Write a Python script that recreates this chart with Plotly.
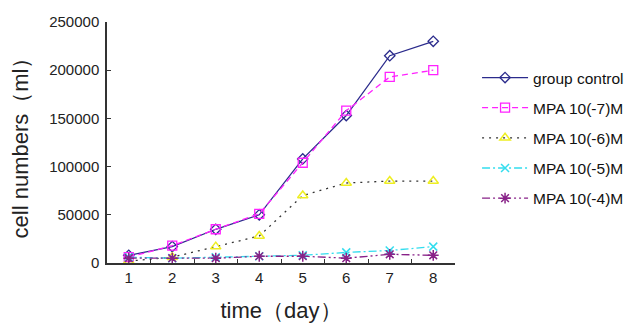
import plotly.graph_objects as go

days = [1, 2, 3, 4, 5, 6, 7, 8]
control = [8000, 17000, 35000, 50000, 108000, 153000, 215000, 230000]
mpa7 = [6000, 18000, 35000, 51000, 104000, 158000, 193000, 200000]
mpa6 = [2000, 6000, 17000, 28000, 70000, 83000, 85000, 85000]
mpa5 = [6000, 5000, 6000, 7000, 8000, 11000, 13000, 17000]
mpa4 = [5000, 5000, 5000, 7000, 7000, 5000, 9000, 8000]
names = ["group control", "MPA 10(-7)M", "MPA 10(-6)M", "MPA 10(-5)M", "MPA 10(-4)M"]

fig = go.Figure()
fig.add_trace(go.Scatter(x=days, y=control, name=names[0], legendgroup="a", mode="lines+markers",
                         line=dict(color="#2B2B8C", width=1.3, dash="solid"),
                         marker=dict(symbol="diamond-open", size=8, color="#2B2B8C", line=dict(width=1.3))))
fig.add_trace(go.Scatter(x=days, y=mpa7, name=names[1], legendgroup="b", mode="lines+markers",
                         line=dict(color="#FF22FF", width=1.3, dash="6px,4px"),
                         marker=dict(symbol="square-open", size=9, color="#FF22FF", line=dict(width=1.3))))
fig.add_trace(go.Scatter(x=days, y=mpa6, name=names[2], legendgroup="c", mode="lines+markers",
                         line=dict(color="#333333", width=1.3, dash="2px,5px"),
                         marker=dict(symbol="triangle-up-open", size=9, color="#EEEE22", line=dict(width=1.5))))
fig.add_trace(go.Scatter(x=days, y=mpa5, name=names[3], legendgroup="d", mode="lines+markers",
                         line=dict(color="#33DDEE", width=1.3, dash="8px,3px,2px,3px"),
                         marker=dict(symbol="x-thin-open", size=8, color="#33DDEE", line=dict(width=1.5, color="#33DDEE"))))
fig.add_trace(go.Scatter(x=days, y=mpa4, name=names[4], legendgroup="e", mode="lines+markers",
                         line=dict(color="#882288", width=1.3, dash="8px,3px,2px,3px,2px,3px"),
                         marker=dict(symbol="asterisk-open", size=9, color="#882288", line=dict(width=1.5, color="#882288"))))

fig.update_layout(
    width=633, height=327,
    margin=dict(l=99, r=186, t=14, b=72, autoexpand=False),
    plot_bgcolor="white", paper_bgcolor="white",
    font=dict(family="Liberation Sans, Arial, sans-serif", color="#222222"),
    showlegend=True,
    legend=dict(xref="container", yref="container", x=0.741, y=0.838,
                xanchor="left", yanchor="top",
                font=dict(size=15.5, color="#111111"), tracegroupgap=7,
                itemwidth=46, bgcolor="rgba(0,0,0,0)"),
    xaxis=dict(range=[0.5, 8.5], tickvals=days, ticktext=[str(d) for d in days],
               ticks="", showgrid=False, zeroline=False, automargin=False,
               showline=True, linecolor="#333333", linewidth=1.5,
               tickfont=dict(size=15),
               minor=dict(tickvals=[1.5, 2.5, 3.5, 4.5, 5.5, 6.5, 7.5], ticks="inside",
                          ticklen=4, tickcolor="#333333", tickwidth=1.2, showgrid=False),
               title=dict(text="time（day）", font=dict(size=22), standoff=18)),
    yaxis=dict(range=[0, 250000], tickvals=[0, 50000, 100000, 150000, 200000, 250000],
               ticktext=["0", "50000", "100000", "150000", "200000", "250000"],
               ticks="inside", ticklen=4, tickcolor="#333333", tickwidth=1.2,
               ticklabelstandoff=3, automargin=False,
               showgrid=False, zeroline=False,
               showline=True, linecolor="#333333", linewidth=1.5,
               tickfont=dict(size=15),
               title=dict(text="cell numbers（ml）", font=dict(size=22), standoff=25)),
)

fig.write_html("out.html")
